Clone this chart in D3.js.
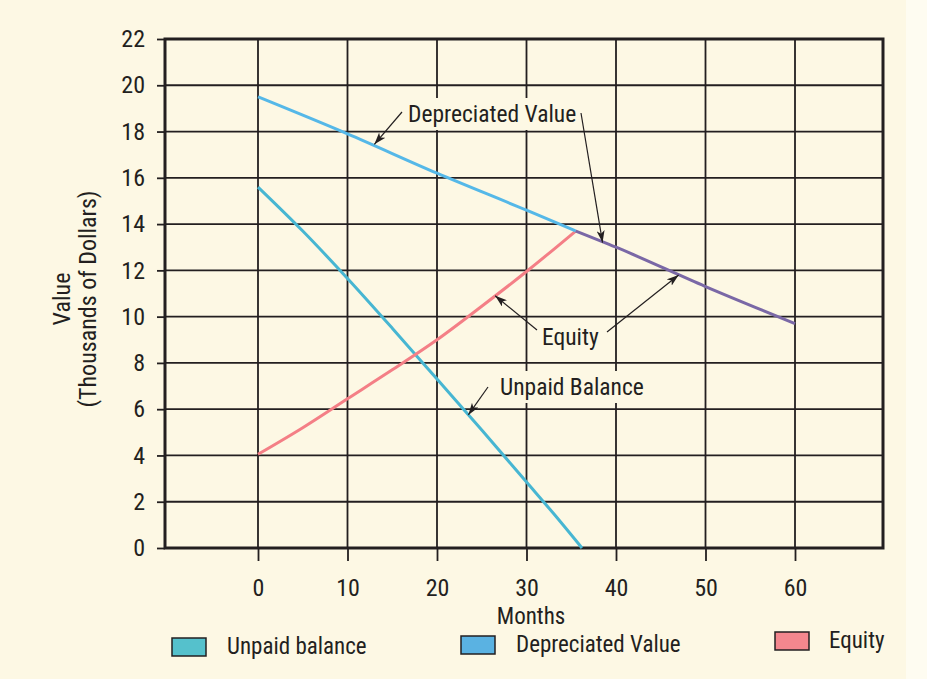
<!DOCTYPE html>
<html>
<head>
<meta charset="utf-8">
<script src="https://cdn.jsdelivr.net/npm/d3@7"></script>
<style>
  html, body { margin: 0; padding: 0; background: #fdf8e4; }
  svg { display: block; }
  text { font-family: "Liberation Sans Narrow", "Roboto Condensed", "DejaVu Sans Condensed", sans-serif; fill: #231f20; }
</style>
</head>
<body>
<svg id="chart" width="927" height="679"></svg>
<script>
// ---- data ----
const monthTicks = [0, 10, 20, 30, 40, 50, 60];
const valueTicks = [0, 2, 4, 6, 8, 10, 12, 14, 16, 18, 20, 22];

const deprMonths = [0, 10, 20, 30, 35.5];
const deprValues = [19.5, 17.9, 16.2, 14.6, 13.7];

const equityTailMonths = [35.5, 40, 50, 60];
const equityTailValues = [13.7, 13.0, 11.3, 9.7];

const unpaidMonths = [0, 5, 10, 15, 20, 25, 30, 33, 36.2];
const unpaidValues = [15.6, 13.7, 11.65, 9.5, 7.3, 5.1, 2.85, 1.5, 0];

const equityMonths = [0, 5, 10, 15, 20, 25, 30, 35.5];
const equityValues = [4.05, 5.2, 6.45, 7.7, 9.0, 10.45, 11.95, 13.7];

const legendLabels = ["Unpaid balance", "Depreciated Value", "Equity"];
const legendColors = ["#55c1cc", "#5ab2e2", "#f4878e"];

// ---- layout ----
const svg = d3.select("#chart");
const W = 927, H = 679;
const plot = { left: 165, right: 883, top: 39, bottom: 548 };
const FS = 23;

const x = d3.scaleLinear().domain([0, 60]).range([258, 795]);
const y = d3.scaleLinear().domain([0, 22]).range([plot.bottom, plot.top]);

const ink = "#231f20";
const fontStack = '"Liberation Sans Narrow", "Roboto Condensed", sans-serif';

// background
svg.append("rect").attr("width", W).attr("height", H).attr("fill", "#fdf8e4");
svg.append("rect").attr("x", 906).attr("width", W - 906).attr("height", H).attr("fill", "#fefcf1");

// grid
const grid = svg.append("g");
grid.selectAll("line.h").data(valueTicks).join("line")
  .attr("x1", plot.left).attr("x2", plot.right)
  .attr("y1", d => y(d)).attr("y2", d => y(d))
  .attr("stroke", ink).attr("stroke-width", 1.8);
grid.selectAll("line.v").data(monthTicks).join("line")
  .attr("x1", d => x(d)).attr("x2", d => x(d))
  .attr("y1", plot.top).attr("y2", plot.bottom)
  .attr("stroke", ink).attr("stroke-width", 1.8);

// axes
const yAxis = d3.axisLeft(y).tickValues(valueTicks).tickSize(8).tickPadding(12);
const gy = svg.append("g").attr("transform", `translate(${plot.left},0)`).call(yAxis);
gy.select(".domain").remove();
gy.selectAll(".tick line").attr("stroke", ink).attr("stroke-width", 1.8);
gy.selectAll(".tick text").attr("font-size", 24).attr("fill", ink).style("font-family", fontStack);

const xAxis = d3.axisBottom(x).tickValues(monthTicks).tickSize(13).tickPadding(18);
const gx = svg.append("g").attr("transform", `translate(0,${plot.bottom})`).call(xAxis);
gx.select(".domain").remove();
gx.selectAll(".tick line").attr("stroke", ink).attr("stroke-width", 1.8);
gx.selectAll(".tick text").attr("font-size", 24).attr("fill", ink).style("font-family", fontStack);

// frame
svg.append("rect")
  .attr("x", plot.left).attr("y", plot.top)
  .attr("width", plot.right - plot.left).attr("height", plot.bottom - plot.top)
  .attr("fill", "none").attr("stroke", ink).attr("stroke-width", 3);

// axis titles
svg.append("text").attr("transform", "translate(70,299) rotate(-90)")
  .attr("text-anchor", "middle").attr("font-size", 24).text("Value");
svg.append("text").attr("transform", "translate(96,299) rotate(-90)")
  .attr("text-anchor", "middle").attr("font-size", 24).text("(Thousands of Dollars)");
svg.append("text").attr("x", 531).attr("y", 624)
  .attr("text-anchor", "middle").attr("font-size", FS).text("Months");

// annotation label backgrounds + labels
const bg = "#fdf8e4";
function label(txt, tx, ty, pad) {
  const t = svg.append("text").attr("x", tx).attr("y", ty).attr("font-size", 23.5).text(txt);
  const b = t.node().getBBox();
  svg.insert("rect", () => t.node())
    .attr("x", b.x - pad).attr("y", b.y - 2).attr("width", b.width + 2 * pad).attr("height", b.height + 4)
    .attr("fill", bg);
  return t;
}

// lines
const line = d3.line().x(d => x(d[0])).y(d => y(d[1])).curve(d3.curveMonotoneX);
const zip = (a, b) => a.map((v, i) => [v, b[i]]);

const marks = svg.append("g").attr("fill", "none").attr("stroke-width", 3).attr("stroke-linecap", "butt");
marks.append("path").attr("d", line(zip(unpaidMonths, unpaidValues))).attr("stroke", "#47b6d2");
marks.append("path").attr("d", line(zip(equityMonths, equityValues))).attr("stroke", "#f47f86");
marks.append("path").attr("d", line(zip(deprMonths, deprValues))).attr("stroke", "#55b8e8");
marks.append("path").attr("d", line(zip(equityTailMonths, equityTailValues))).attr("stroke", "#7a68a6");

label("Depreciated Value", 408, 122, 4);
label("Equity", 542, 345, 4);
label("Unpaid Balance", 500, 395, 4);

// arrows
const defs = svg.append("defs");
defs.append("marker").attr("id", "ah").attr("viewBox", "0 0 12 8")
  .attr("refX", 12).attr("refY", 4).attr("markerWidth", 12).attr("markerHeight", 8)
  .attr("markerUnits", "userSpaceOnUse").attr("orient", "auto")
  .append("path").attr("d", "M0,0 L12,4 L0,8 L3,4 Z").attr("fill", ink);

const arrows = [
  { from: [402, 112], to: [13, 17.45] },
  { from: [581, 113], to: [38.5, 13.2] },
  { from: [537, 330], to: [26.5, 10.9] },
  { from: [607, 332], to: [47, 11.8] },
  { from: [488, 387], to: [23.5, 5.75] }
];
svg.append("g").selectAll("line").data(arrows).join("line")
  .attr("x1", d => d.from[0]).attr("y1", d => d.from[1])
  .attr("x2", d => x(d.to[0])).attr("y2", d => y(d.to[1]))
  .attr("stroke", ink).attr("stroke-width", 1.2).attr("marker-end", "url(#ah)");

// legend
const legendX = [172, 461, 775];
const legendY = [638, 636, 632];
const lg = svg.append("g").selectAll("g").data(legendLabels).join("g")
  .attr("transform", (d, i) => `translate(${legendX[i]},${legendY[i]})`);
lg.append("rect").attr("width", 34).attr("height", 18)
  .attr("fill", (d, i) => legendColors[i]).attr("stroke", ink).attr("stroke-width", 1.5);
lg.append("text").attr("x", (d, i) => i === 1 ? 55 : (i === 0 ? 55 : 54)).attr("y", 16).attr("font-size", FS).text(d => d);
</script>
</body>
</html>
